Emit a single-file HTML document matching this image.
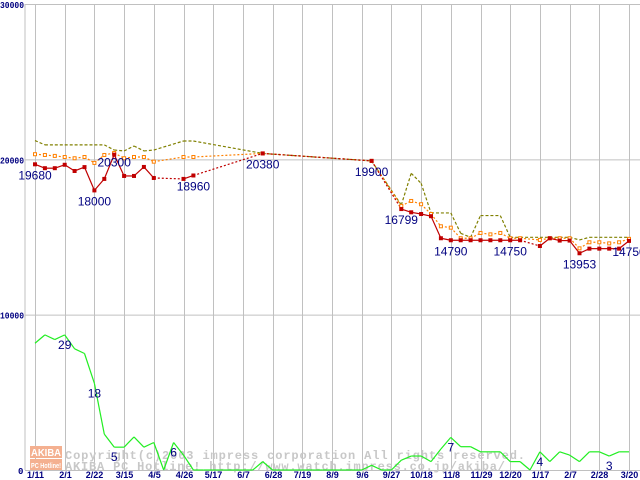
<!DOCTYPE html>
<html><head><meta charset="utf-8"><style>
html,body{margin:0;padding:0;background:#fff;}
svg{display:block;}
text{font-family:"Liberation Sans",sans-serif;}
</style></head><body>
<svg id="chart" width="640" height="480" viewBox="0 0 640 480" xmlns="http://www.w3.org/2000/svg">
<g id="grid"></g>
<g id="wm">
  <rect x="30" y="446" width="32" height="12" fill="#f4b090"/>
  <rect x="30" y="459" width="32" height="11" fill="#f4b090"/>
  <text x="31" y="456" font-size="10" font-weight="bold" fill="#fff" textLength="30" lengthAdjust="spacingAndGlyphs">AKIBA</text>
  <text x="31" y="468" font-size="7" font-weight="bold" fill="#fff" textLength="30" lengthAdjust="spacingAndGlyphs">PC Hotline!</text>
  <text x="65" y="459" font-size="12" font-weight="bold" fill="#c8c8c8" textLength="460" lengthAdjust="spacing" style="font-family:'Liberation Mono',monospace">Copyright(c)2003 impress corporation All rights reserved.</text>
  <text x="65" y="470" font-size="12" font-weight="bold" fill="#c8c8c8" textLength="440" lengthAdjust="spacing" style="font-family:'Liberation Mono',monospace">AKIBA PC Hotline!  http://www.watch.impress.co.jp/akiba/</text>
</g>
<g id="series"></g>
<g id="labels"></g>
</svg>
<script>
const xLabels=["1/11","2/1","2/22","3/15","4/5","4/26","5/17","6/7","6/28","7/19","8/9","9/6","9/27","10/18","11/8","11/29","12/20","1/17","2/7","2/28","3/20"];
const yTicks=[0,10000,20000,30000];
const N=null;
const redMin=[19680,19430,19430,19650,19250,19500,18000,18740,20300,18930,18930,19510,18800,N,N,18740,18960,N,N,N,N,N,N,20380,N,N,N,N,N,N,N,N,N,N,19900,N,N,16799,16590,16480,16340,14920,14790,14790,14790,14790,14790,14790,14790,14790,N,14420,14920,14770,14770,13953,14250,14250,14250,14250,14750];
const orangeAvg=[20330,20280,20220,20150,20070,20150,19770,20280,20410,20070,20150,20150,19850,N,N,20150,20150,N,N,N,N,N,N,20380,N,N,N,N,N,N,N,N,N,N,19900,N,N,17000,17320,17110,16480,15690,15600,14920,14920,15260,15170,15260,14920,14920,N,14810,14920,14920,14920,14270,14660,14660,14590,14660,14880];
const oliveMax=[21210,20930,20930,20930,20930,20930,20930,20930,20600,20540,20860,20540,20600,N,N,21180,21180,N,N,N,N,N,N,20380,N,N,N,N,N,N,N,N,N,N,19900,N,N,17060,19100,18460,16550,16550,16550,15240,14980,16380,16380,16380,14980,14980,N,14980,14980,14980,14980,14810,14980,14980,14980,14980,14980];
const greenCount=[27.2,29,28,29,26,25,18.6,7.7,4.9,4.9,7.1,4.9,5.9,0,5.9,3.2,0,0,0,0,0,0,0,1.8,0,0,0,0,0,0,0,0,0,0,1,0,0,2.1,3,3,1.8,4.5,7,5,5,3.9,3.9,3.9,1.8,1.8,0,3.9,1.8,3.9,3.2,1.8,3.9,3.9,3,3.9,3.9];
const priceLabels=[[0,19680],[6,18000],[8,20300],[16,18960],[23,20380],[34,19900],[37,16799],[42,14790],[48,14750],[55,13953],[60,14750]];
const countLabels=[[3,29],[6,18],[8,5],[14,6],[42,7],[51,4],[58,3]];

const NS="http://www.w3.org/2000/svg";
const X0=35,DX=9.9,Y0=470,PX=466/30000,CNT=300;
const xs=i=>X0+i*DX;
const yP=v=>Y0-v*PX;
const yG=v=>yP(v*CNT);
function mk(tag,attrs,parent){const e=document.createElementNS(NS,tag);for(const k in attrs)e.setAttribute(k,attrs[k]);document.getElementById(parent).appendChild(e);return e;}

let ax=mk('line',{x1:25,y1:4,x2:25,y2:470,stroke:'#c0c0c0'},'grid');


yTicks.forEach(t=>{
  const l=mk('line',{x1:25,x2:640,y1:yP(t)+0.5,y2:yP(t)+0.5,stroke:'#c0c0c0'},'grid');
  
  
  const a={x:t===0?18:0,y:yP(t)+4,'font-size':9,'font-weight':'bold',fill:'#000080',style:"font-family:'Liberation Mono',monospace"};
  if(t!==0){a.textLength=24;a.lengthAdjust='spacingAndGlyphs';}
  const tx=mk('text',a,'grid');
  tx.textContent=t;
  
  
});
xLabels.forEach((lab,k)=>{
  const x=Math.round(xs(k*3))+0.5;
  const l=mk('line',{x1:x,x2:x,y1:4,y2:470,stroke:'#c0c0c0'},'grid');
  
  
  const t=mk('text',{x:x,y:478,'font-size':9,'font-weight':'bold',fill:'#000080','text-anchor':'middle'},'grid');
  t.textContent=lab;
  
  
});

function drawSeries(arr,yf,color,dash,gapDash,name){
  let prev=-1;
  for(let i=0;i<arr.length;i++){
    if(arr[i]===null)continue;
    if(prev>=0){
      const gap=i-prev>1;
      const d=gap?gapDash:dash;
      const a={x1:xs(prev),y1:yf(arr[prev]),x2:xs(i),y2:yf(arr[i]),stroke:color,'stroke-width':1.2};
      if(d)a['stroke-dasharray']=d;
      const l=mk('line',a,'series');
      
      
    }
    prev=i;
  }
}
drawSeries(greenCount,yG,'#22ee22',null,null,'count-line');
drawSeries(oliveMax,yP,'#808000','3,2','3,2','max-price-line');
drawSeries(orangeAvg,yP,'#ff8000','2,2','2,2','avg-price-line');
drawSeries(redMin,yP,'#c00000',null,'2,2','min-price-line');
orangeAvg.forEach((v,i)=>{if(v===null)return;
  const r=mk('rect',{x:xs(i)-1.5,y:yP(v)-1.5,width:3,height:3,fill:'#fff',stroke:'#ff8000','stroke-width':1},'series');
  
  
});
redMin.forEach((v,i)=>{if(v===null)return;
  const r=mk('rect',{x:xs(i)-2,y:yP(v)-2,width:4,height:4,fill:'#c00000'},'series');
  
  
});
priceLabels.forEach(([i,v])=>{
  const t=mk('text',{x:xs(i),y:yP(redMin[i])+(v===20300?12:15),'font-size':12,fill:'#000080','text-anchor':'middle'},'labels');
  t.textContent=v;
  
  
});
countLabels.forEach(([i,v])=>{
  const t=mk('text',{x:xs(i),y:yG(greenCount[i])+14,'font-size':12,fill:'#000080','text-anchor':'middle'},'labels');
  t.textContent=v;
  
  
});
</script>
</body></html>
